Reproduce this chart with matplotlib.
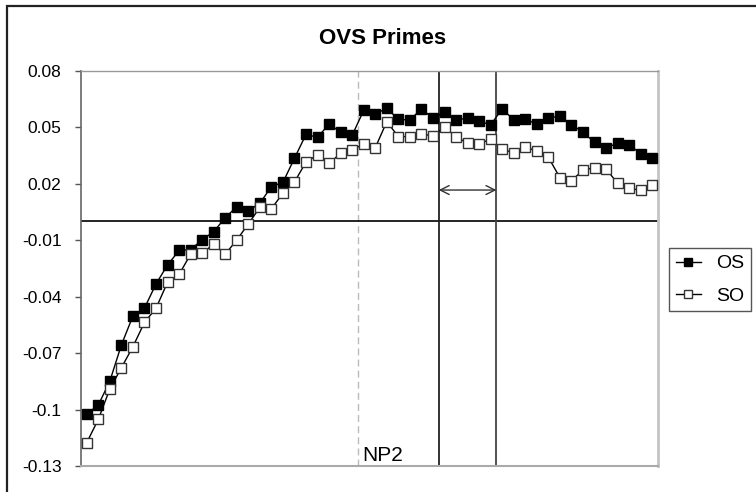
import numpy as np
import matplotlib
matplotlib.use("Agg")
import matplotlib.pyplot as plt
from matplotlib.patches import Rectangle

plt.rcParams['font.family'] = ['Liberation Sans', 'DejaVu Sans']

# values (50 points each)
os_vals = [-0.1024, -0.0976, -0.0849, -0.0657, -0.0503, -0.0461, -0.0333, -0.0232, -0.0155, -0.0150,
           -0.0099, -0.0055, 0.0019, 0.0078, 0.0056, 0.0096, 0.0184, 0.0207, 0.0335, 0.0462,
           0.0446, 0.0517, 0.0473, 0.0457, 0.0590, 0.0570, 0.0600, 0.0542, 0.0537, 0.0598,
           0.0547, 0.0581, 0.0537, 0.0549, 0.0533, 0.0512, 0.0598, 0.0538, 0.0542, 0.0517,
           0.0547, 0.0560, 0.0513, 0.0473, 0.0420, 0.0391, 0.0414, 0.0407, 0.0359, 0.0335]
so_vals = [-0.1176, -0.1052, -0.0891, -0.0778, -0.0666, -0.0537, -0.0462, -0.0324, -0.0282, -0.0175,
           -0.0170, -0.0121, -0.0175, -0.0099, -0.0014, 0.0074, 0.0067, 0.0149, 0.0209, 0.0315,
           0.0352, 0.0308, 0.0361, 0.0377, 0.0413, 0.0391, 0.0529, 0.0450, 0.0450, 0.0462,
           0.0455, 0.0499, 0.0450, 0.0414, 0.0412, 0.0436, 0.0384, 0.0363, 0.0396, 0.0372,
           0.0340, 0.0232, 0.0216, 0.0271, 0.0285, 0.0278, 0.0202, 0.0175, 0.0165, 0.0193]

y_ticks = [0.08, 0.05, 0.02, -0.01, -0.04, -0.07, -0.1, -0.13]
y_labels = ['0.08', '0.05', '0.02', '-0.01', '-0.04', '-0.07', '-0.1', '-0.13']

np2_pos = 23.5        # dashed marker line
window = [30.5, 35.5]  # the two solid lines with the arrow between
arrow_y = 0.0166

x = np.arange(len(os_vals))

fig = plt.figure(figsize=(7.56, 4.92), dpi=100)
ax = fig.add_axes([81 / 756, 26 / 492, 577 / 756, 395.3 / 492])

ax.plot(x, os_vals, color='black', lw=1, marker='s', ms=7.6,
        mfc='black', mec='black', label='OS', zorder=3)
ax.plot(x, so_vals, color='black', lw=1, marker='s', ms=6.8,
        mfc='white', mec='#333333', mew=1, label='SO', zorder=4)

ax.set_xlim(-0.5, len(x) - 0.5)
ax.set_ylim(-0.13, 0.08)

# reference lines
ax.axhline(0, color='black', lw=1.2, zorder=2)
ax.axvline(np2_pos, color='#bbbbbb', lw=1, ls=(0, (5, 3)), zorder=1)
ax.axvline(window[0], color='#222222', lw=1.3, zorder=2)
ax.axvline(window[1], color='#444444', lw=1.3, zorder=2)
ax.annotate('', xy=(window[1], arrow_y), xytext=(window[0], arrow_y),
            arrowprops=dict(arrowstyle='<->', color='#333333', lw=1,
                            mutation_scale=16, shrinkA=0, shrinkB=0))
ax.text(0.487, 0.013, 'NP2', transform=ax.transAxes, fontsize=15,
        ha='left', va='baseline')

ax.set_xticks([])
ax.set_yticks(y_ticks)
ax.set_yticklabels(y_labels)
ax.tick_params(axis='y', direction='out', length=4, width=1, color='#555555',
               pad=10, labelsize=12.5)

ax.spines['left'].set_color('#666666')
ax.spines['left'].set_linewidth(1.2)
ax.spines['top'].set_color('#999999')
ax.spines['top'].set_linewidth(1)
ax.spines['right'].set_color('#c4c4c4')
ax.spines['right'].set_linewidth(2)
ax.spines['bottom'].set_color('#aaaaaa')
ax.spines['bottom'].set_linewidth(1.5)

fig.text(382.5 / 756, 1 - 43.5 / 492, 'OVS Primes', fontsize=16,
         fontweight='bold', ha='center', va='baseline')

leg = fig.legend(loc='upper left', bbox_to_anchor=(669 / 756, 1 - 248 / 492),
                 borderaxespad=0, fontsize=14, handlelength=1.3,
                 handletextpad=0.75, borderpad=0.35, labelspacing=0.75,
                 markerscale=0.85, fancybox=False, framealpha=1)
leg.get_frame().set_edgecolor('#555555')
leg.get_frame().set_linewidth(1)

# outer chart border (runs off the right and bottom edge)
fig.patches.append(Rectangle((7 / 756, -0.2), 2, 1.2 - 6 / 492, transform=fig.transFigure,
                             fill=False, ec='#222222', lw=1.6))

fig.savefig('out.png', dpi=100)
